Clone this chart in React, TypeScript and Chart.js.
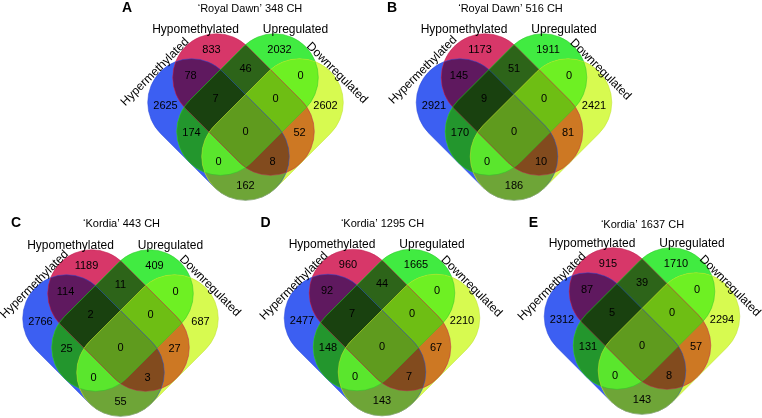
import React, { useEffect, useRef } from 'react';
import { Chart, registerables } from 'chart.js';
Chart.register(...registerables);

const W = 762;
const H = 418;
const FONT = '"Liberation Sans", Arial, Helvetica, sans-serif';

// panels
const panelLetters = ['A', 'B', 'C', 'D', 'E'];
const panelTitles = [
  '\u2018Royal Dawn\u2019 348 CH',
  '\u2018Royal Dawn\u2019 516 CH',
  '\u2018Kordia\u2019 443 CH',
  '\u2018Kordia\u2019 1295 CH',
  '\u2018Kordia\u2019 1637 CH',
];
const setNames = ['Hypermethylated', 'Hypomethylated', 'Upregulated', 'Downregulated'];

// region keys: bits = Hyper, Hypo, Up, Down
const regionKeys = ['1000', '0100', '0010', '0001', '1100', '0110', '0011', '1010', '0101', '1001', '1110', '0111', '1011', '1101', '1111'];

// counts per panel, same order as regionKeys
const countsA = [2625, 833, 2032, 2602, 78, 46, 0, 174, 52, 162, 7, 0, 0, 8, 0];
const countsB = [2921, 1173, 1911, 2421, 145, 51, 0, 170, 81, 186, 9, 0, 0, 10, 0];
const countsC = [2766, 1189, 409, 687, 114, 11, 0, 25, 27, 55, 2, 0, 0, 3, 0];
const countsD = [2477, 960, 1665, 2210, 92, 44, 0, 148, 67, 143, 7, 0, 0, 7, 0];
const countsE = [2312, 915, 1710, 2294, 87, 39, 0, 131, 57, 143, 5, 0, 0, 8, 0];
const panelCounts = [countsA, countsB, countsC, countsD, countsE];

// layout (diagram units = px)
const panelCenters: [number, number][] = [[245.5, 131.5], [514, 131.5], [120.5, 347.5], [382, 347], [642, 345.5]];
const titlePos: [number, number][] = [[250, 8.5], [510.5, 8.5], [121.5, 224], [382.5, 224], [642.5, 224.5]];
const letterPos: [number, number][] = [[127, 8], [392, 8], [16, 223], [265.5, 223], [533.5, 223]];
const hyperLabelOffset: [number, number][] = [[-90.5, -59.5], [-91, -61.5], [-86, -63], [-88, -61], [-90, -59]];
const downLabelOffset: [number, number][] = [[91.5, -58.5], [86.5, -62], [89.5, -61.5], [89.5, -60.5], [88, -59.5]];

const regionOffsets: Record<string, [number, number]> = {
  '1000': [-80, -26], '0100': [-34, -82], '0010': [34, -82], '0001': [80, -26],
  '1100': [-55, -56], '0110': [0, -63], '0011': [55, -56],
  '1010': [-54, 1], '0101': [54, 1], '1001': [0, 54],
  '1110': [-30, -33], '0111': [30, -33], '1011': [-27, 30], '1101': [27, 30],
  '1111': [0, 0],
};
const regionColors: Record<string, string> = {
  '1000': '#3c5ff2', '0100': '#d73769', '0010': '#41eb41', '0001': '#d7fa50',
  '1100': '#5f195f', '0110': '#2d6419', '0011': '#6ef023',
  '1010': '#23962d', '0101': '#cd7823', '1001': '#6ea537',
  '1110': '#19410f', '0111': '#6ebe14', '1011': '#5ae62d', '1101': '#824b1e',
  '1111': '#5f9b1e',
};
// capsule shapes: two cap centres relative to panel centre
const capsules: [number, number, number, number][] = [
  [-54, -29, 0, 25],   // Hypermethylated (blue)
  [-29, -54, 25, 0],   // Hypomethylated (red)
  [29, -54, -25, 0],   // Upregulated (green)
  [54, -29, 0, 25],    // Downregulated (yellow)
];
const capRadius = 43.8;
const strokeColors = ['#2a48d8', '#c21f4f', '#2cc82c', '#bde02a'];

const vennPlugin = {
  id: 'venn',
  beforeDatasetsDraw(chart: any) {
    const ctx = chart.ctx as CanvasRenderingContext2D;
    const xs = chart.scales.x;
    const ys = chart.scales.y;
    const k = xs.getPixelForValue(1) - xs.getPixelForValue(0);
    const path = (c: [number, number], s: number[]) => {
      const x1 = xs.getPixelForValue(c[0] + s[0]);
      const y1 = ys.getPixelForValue(c[1] + s[1]);
      const x2 = xs.getPixelForValue(c[0] + s[2]);
      const y2 = ys.getPixelForValue(c[1] + s[3]);
      const th = Math.atan2(y2 - y1, x2 - x1);
      const r = capRadius * k;
      ctx.beginPath();
      ctx.arc(x1, y1, r, th + Math.PI / 2, th + (3 * Math.PI) / 2);
      ctx.arc(x2, y2, r, th - Math.PI / 2, th + Math.PI / 2);
      ctx.closePath();
    };
    const bits = (key: string) => key.split('').filter((ch) => ch === '1').length;
    const keys = [...regionKeys].sort((a, b) => bits(a) - bits(b));
    panelCenters.forEach((c) => {
      keys.forEach((key) => {
        const idx = key.split('').map((ch, i) => (ch === '1' ? i : -1)).filter((i) => i >= 0);
        ctx.save();
        idx.slice(0, -1).forEach((i) => {
          path(c, capsules[i]);
          ctx.clip();
        });
        path(c, capsules[idx[idx.length - 1]]);
        ctx.fillStyle = regionColors[key];
        ctx.fill();
        ctx.restore();
      });
      ctx.save();
      ctx.lineWidth = 1;
      ctx.globalAlpha = 0.5;
      capsules.forEach((s, i) => {
        path(c, s);
        ctx.strokeStyle = strokeColors[i];
        ctx.stroke();
      });
      ctx.restore();
    });
  },
  afterDatasetsDraw(chart: any) {
    const ctx = chart.ctx as CanvasRenderingContext2D;
    const xs = chart.scales.x;
    const ys = chart.scales.y;
    ctx.save();
    ctx.fillStyle = '#000';
    ctx.textAlign = 'center';
    ctx.textBaseline = 'middle';
    ctx.font = `11px ${FONT}`;
    chart.data.datasets.forEach((ds: any, di: number) => {
      const meta = chart.getDatasetMeta(di);
      meta.data.forEach((el: any, i: number) => {
        ctx.fillText(String(ds.data[i].v), el.x, el.y);
      });
    });
    panelCenters.forEach((c, p) => {
      const X = (v: number) => xs.getPixelForValue(v);
      const Y = (v: number) => ys.getPixelForValue(v);
      ctx.font = `bold 14px ${FONT}`;
      ctx.fillText(panelLetters[p], X(letterPos[p][0]), Y(letterPos[p][1]));
      ctx.font = `11px ${FONT}`;
      ctx.fillText(panelTitles[p], X(titlePos[p][0]), Y(titlePos[p][1]));
      ctx.font = `12px ${FONT}`;
      ctx.fillText(setNames[1], X(c[0] - 50), Y(c[1] - 102));
      ctx.fillText(setNames[2], X(c[0] + 50), Y(c[1] - 102));
      ctx.save();
      ctx.translate(X(c[0] + hyperLabelOffset[p][0]), Y(c[1] + hyperLabelOffset[p][1]));
      ctx.rotate((-45 * Math.PI) / 180);
      ctx.fillText(setNames[0], 0, 0);
      ctx.restore();
      ctx.save();
      ctx.translate(X(c[0] + downLabelOffset[p][0]), Y(c[1] + downLabelOffset[p][1]));
      ctx.rotate((45 * Math.PI) / 180);
      ctx.fillText(setNames[3], 0, 0);
      ctx.restore();
    });
    ctx.restore();
  },
};

export default function App() {
  const ref = useRef<HTMLCanvasElement>(null);
  useEffect(() => {
    if (!ref.current) return;
    const datasets = panelCounts.map((counts, p) => ({
      label: panelTitles[p],
      data: regionKeys.map((key, i) => ({
        x: panelCenters[p][0] + regionOffsets[key][0],
        y: panelCenters[p][1] + regionOffsets[key][1],
        v: counts[i],
      })),
      pointRadius: 0,
      pointHoverRadius: 0,
      showLine: false,
    }));
    const chart = new Chart(ref.current, {
      type: 'scatter',
      data: { datasets },
      options: {
        animation: false,
        responsive: true,
        maintainAspectRatio: false,
        layout: { padding: 0 },
        events: [],
        plugins: { legend: { display: false }, tooltip: { enabled: false }, title: { display: false } },
        scales: {
          x: { type: 'linear', min: 0, max: W, display: false },
          y: { type: 'linear', min: 0, max: H, reverse: true, display: false },
        },
      },
      plugins: [vennPlugin],
    } as any);
    return () => chart.destroy();
  }, []);
  return (
    <div style={{ position: 'fixed', left: 0, top: 0, width: W, height: H, background: '#fff' }}>
      <canvas ref={ref} />
    </div>
  );
}
